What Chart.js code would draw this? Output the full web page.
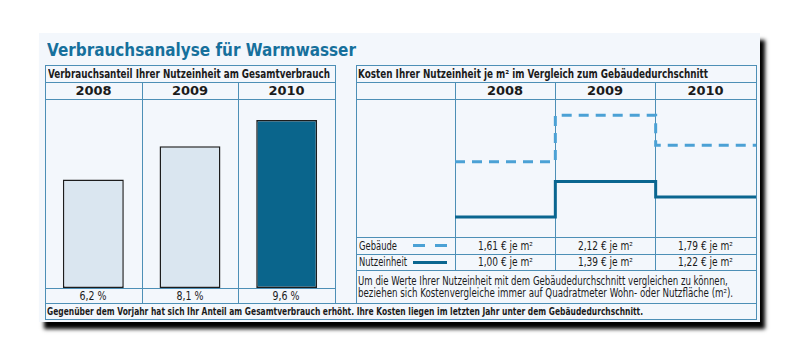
<!DOCTYPE html>
<html lang="de">
<head>
<meta charset="utf-8">
<title>Verbrauchsanalyse für Warmwasser</title>
<script src="https://cdn.jsdelivr.net/npm/chart.js@4.4.1/dist/chart.umd.min.js"></script>
<style>
  html, body { margin: 0; padding: 0; background: #fff; }
  body {
    width: 800px; height: 360px; position: relative; overflow: hidden;
    font-family: "DejaVu Sans Condensed", "DejaVu Sans", sans-serif;
    color: #1b1b1b;
  }
  .card {
    position: absolute; left: 39px; top: 33px; width: 721px; height: 289px;
    background: #f3f7fc; box-shadow: 5px 7px 4px #000;
  }
  .hl, .vl { position: absolute; background: #4d8fb6; }
  .hl { height: 1px; }
  .vl { width: 1px; }
  .t { position: absolute; white-space: nowrap; display: flex; align-items: center; }
  .t span { display: inline-block; transform-origin: 0 50%; }
  .t.c { justify-content: center; }
  .t.c span { transform-origin: 50% 50%; }
  .title { font-family: "DejaVu Sans", sans-serif; font-weight: bold; font-size: 18.5px; color: #16709c; }
  .hd { font-weight: bold; font-size: 11.5px; }
  .yr { font-family: "DejaVu Sans", sans-serif; font-weight: bold; font-size: 13px; }
  .val { font-size: 12.5px; }
  .sm { font-size: 11.5px; }
  .foot { font-weight: bold; font-size: 11px; }
  canvas { position: absolute; }
  .key { position: absolute; height: 3px; }
</style>
</head>
<body>
<div class="card"></div>

<!-- table lines, left panel -->
<div class="hl" style="left:45px;top:65px;width:291px"></div>
<div class="hl" style="left:45px;top:82px;width:291px"></div>
<div class="hl" style="left:45px;top:99px;width:291px"></div>
<div class="hl" style="left:45px;top:288px;width:291px"></div>
<div class="hl" style="left:45px;top:303px;width:712px"></div>
<div class="hl" style="left:45px;top:319px;width:712px"></div>
<div class="vl" style="left:45px;top:65px;height:255px"></div>
<div class="vl" style="left:335px;top:65px;height:238px"></div>
<div class="vl" style="left:142px;top:82px;height:221px"></div>
<div class="vl" style="left:238px;top:82px;height:221px"></div>

<!-- table lines, right panel -->
<div class="hl" style="left:356px;top:65px;width:401px"></div>
<div class="hl" style="left:356px;top:82px;width:401px"></div>
<div class="hl" style="left:356px;top:99px;width:401px"></div>
<div class="hl" style="left:356px;top:237px;width:401px"></div>
<div class="hl" style="left:356px;top:254px;width:401px"></div>
<div class="hl" style="left:356px;top:270px;width:401px"></div>
<div class="vl" style="left:356px;top:65px;height:238px"></div>
<div class="vl" style="left:756px;top:65px;height:255px"></div>
<div class="vl" style="left:455px;top:82px;height:188px"></div>
<div class="vl" style="left:555px;top:82px;height:188px"></div>
<div class="vl" style="left:655px;top:82px;height:188px"></div>

<!-- texts -->
<div class="t title" style="left:47px;top:39px;height:21px" data-w="309"><span>Verbrauchsanalyse für Warmwasser</span></div>
<div class="t hd" style="left:48px;top:65px;height:17px" data-w="282"><span id="leftTitle"></span></div>
<div class="t hd" style="left:358px;top:65px;height:17px" data-w="350"><span id="rightTitle"></span></div>

<div class="t c yr" style="left:45px;top:82px;width:97px;height:17px"><span id="ly0"></span></div>
<div class="t c yr" style="left:142px;top:82px;width:96px;height:17px"><span id="ly1"></span></div>
<div class="t c yr" style="left:238px;top:82px;width:97px;height:17px"><span id="ly2"></span></div>
<div class="t c yr" style="left:455px;top:82px;width:100px;height:17px"><span id="ry0"></span></div>
<div class="t c yr" style="left:555px;top:82px;width:100px;height:17px"><span id="ry1"></span></div>
<div class="t c yr" style="left:655px;top:82px;width:101px;height:17px"><span id="ry2"></span></div>

<div class="t c val" style="left:45px;top:288px;width:97px;height:15px" data-w="27"><span id="lv0"></span></div>
<div class="t c val" style="left:142px;top:288px;width:96px;height:15px" data-w="27"><span id="lv1"></span></div>
<div class="t c val" style="left:238px;top:288px;width:97px;height:15px" data-w="27"><span id="lv2"></span></div>

<div class="t sm" style="left:359px;top:237px;height:17px" data-w="38"><span id="gName"></span></div>
<div class="t sm" style="left:359px;top:254px;height:16px" data-w="48"><span id="nName"></span></div>
<div class="key" style="left:413px;top:244px;width:12px;background:#4ba1d5"></div>
<div class="key" style="left:435px;top:244px;width:12px;background:#4ba1d5"></div>
<div class="key" style="left:413px;top:261px;width:34px;background:#0a6690"></div>

<div class="t c sm" style="left:455px;top:237px;width:100px;height:17px" data-w="55"><span id="gv0"></span></div>
<div class="t c sm" style="left:555px;top:237px;width:100px;height:17px" data-w="55"><span id="gv1"></span></div>
<div class="t c sm" style="left:655px;top:237px;width:101px;height:17px" data-w="55"><span id="gv2"></span></div>
<div class="t c sm" style="left:455px;top:254px;width:100px;height:16px" data-w="55"><span id="nv0"></span></div>
<div class="t c sm" style="left:555px;top:254px;width:100px;height:16px" data-w="55"><span id="nv1"></span></div>
<div class="t c sm" style="left:655px;top:254px;width:101px;height:16px" data-w="55"><span id="nv2"></span></div>

<div class="t sm" style="left:358px;top:274px;height:13px" data-w="370"><span>Um die Werte Ihrer Nutzeinheit mit dem Gebäudedurchschnitt vergleichen zu können,</span></div>
<div class="t sm" style="left:358px;top:286px;height:13px" data-w="375"><span>beziehen sich Kostenvergleiche immer auf Quadratmeter Wohn- oder Nutzfläche (m²).</span></div>

<div class="t foot" style="left:47px;top:303px;height:16px" data-w="596"><span>Gegenüber dem Vorjahr hat sich Ihr Anteil am Gesamtverbrauch erhöht. Ihre Kosten liegen im letzten Jahr unter dem Gebäudedurchschnitt.</span></div>

<canvas id="bars" width="290" height="189" style="left:45px;top:99px"></canvas>
<canvas id="steps" width="301" height="138" style="left:455px;top:99px"></canvas>

<script>
// data
const years = ["2008", "2009", "2010"];
const shares = [6.2, 8.1, 9.6];            // Verbrauchsanteil in %
const buildingCost = [1.61, 2.12, 1.79];   // Gebäude, € je m²
const unitCost = [1.00, 1.39, 1.22];       // Nutzeinheit, € je m²
const leftTitle = "Verbrauchsanteil Ihrer Nutzeinheit am Gesamtverbrauch";
const rightTitle = "Kosten Ihrer Nutzeinheit je m² im Vergleich zum Gebäudedurchschnitt";
const seriesNames = ["Gebäude", "Nutzeinheit"];

const LIGHT = "#dae6f0";
const DARK = "#0a658c";
const DASHED = "#4ba1d5";
const SOLID = "#0a6690";

const de = (v, d) => v.toFixed(d).replace(".", ",");

// fill table texts
document.getElementById("leftTitle").textContent = leftTitle;
document.getElementById("rightTitle").textContent = rightTitle;
document.getElementById("gName").textContent = seriesNames[0];
document.getElementById("nName").textContent = seriesNames[1];
years.forEach((y, i) => {
  document.getElementById("ly" + i).textContent = y;
  document.getElementById("ry" + i).textContent = y;
  document.getElementById("lv" + i).textContent = de(shares[i], 1) + " %";
  document.getElementById("gv" + i).textContent = de(buildingCost[i], 2) + " € je m²";
  document.getElementById("nv" + i).textContent = de(unitCost[i], 2) + " € je m²";
});

// squeeze texts to the widths in the picture
document.querySelectorAll("[data-w]").forEach(el => {
  const s = el.firstElementChild;
  const w = s.getBoundingClientRect().width;
  if (w > 0) s.style.transform = "scaleX(" + (+el.dataset.w / w).toFixed(3) + ")";
});

// -----------------------------
// BAR CHART (share)
// -----------------------------
new Chart(document.getElementById("bars"), {
  type: "bar",
  data: {
    labels: years,
    datasets: [{
      data: shares,
      backgroundColor: shares.map((v, i) => i === shares.length - 1 ? DARK : LIGHT),
      borderColor: "#1d1d1d",
      borderWidth: 1.5,
      borderSkipped: false,
      barPercentage: 0.63,
      categoryPercentage: 1,
    }],
  },
  options: {
    responsive: false,
    animation: false,
    layout: { padding: 0 },
    plugins: { legend: { display: false }, tooltip: { enabled: false } },
    scales: {
      x: { display: false },
      y: { display: false, min: 0, max: 10.8 },
    },
  },
});

// -----------------------------
// STEP LINES (costs)
// -----------------------------
const toSteps = arr => arr.map((v, i) => ({ x: i, y: v })).concat([{ x: arr.length, y: arr[arr.length - 1] }]);

new Chart(document.getElementById("steps"), {
  type: "line",
  data: {
    datasets: [
      {
        label: seriesNames[0],
        data: toSteps(buildingCost),
        borderColor: DASHED,
        borderWidth: 3,
        borderDash: [10, 7],
        stepped: "before",
        pointRadius: 0,
        fill: false,
      },
      {
        label: seriesNames[1],
        data: toSteps(unitCost),
        borderColor: SOLID,
        borderWidth: 3,
        stepped: "before",
        pointRadius: 0,
        fill: false,
      },
    ],
  },
  options: {
    responsive: false,
    animation: false,
    layout: { padding: 0 },
    plugins: { legend: { display: false }, tooltip: { enabled: false } },
    scales: {
      x: { type: "linear", display: false, min: 0, max: years.length },
      y: { display: false, min: 0.78, max: 2.3 },
    },
  },
});
</script>
</body>
</html>
